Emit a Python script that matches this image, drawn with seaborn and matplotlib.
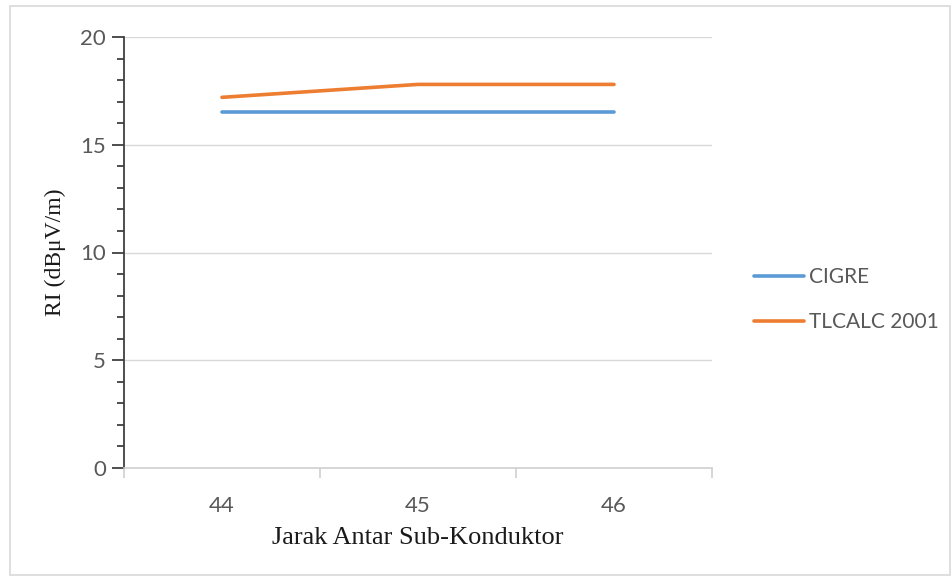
import matplotlib.pyplot as plt
import pandas as pd
import seaborn as sns
from matplotlib.patches import Rectangle
from matplotlib.ticker import MultipleLocator, FixedLocator

# data
jarak = [44, 45, 46]
cigre = [16.5, 16.5, 16.5]
tlcalc = [17.2, 17.8, 17.8]
series_names = ["CIGRE", "TLCALC 2001"]
colors = ["#5b9bd5", "#ed7d31"]

df = pd.DataFrame({
    "jarak": jarak * 2,
    "ri": cigre + tlcalc,
    "series": [series_names[0]] * 3 + [series_names[1]] * 3,
})

sns.set_theme(style="white")
plt.rcParams["font.family"] = ["Lato", "DejaVu Sans"]

fig = plt.figure(figsize=(9.53, 5.81), dpi=100)
ax = fig.add_axes([124 / 953, 1 - 468 / 581, (712 - 124) / 953, (468 - 37) / 581])

sns.lineplot(data=df, x="jarak", y="ri", hue="series", palette=colors,
             linewidth=2.6, ax=ax, legend=True)

# outer chart frame
fig.patches.append(Rectangle((10 / 953, 6 / 581), 940 / 953, 569 / 581,
                             transform=fig.transFigure, fill=False,
                             edgecolor="#d9d9d9", linewidth=1.2))

ax.set_xlim(43.5, 46.5)
ax.set_ylim(0, 20)
ax.xaxis.set_major_locator(FixedLocator(jarak))
ax.xaxis.set_minor_locator(FixedLocator([43.5, 44.5, 45.5, 46.5]))
ax.yaxis.set_major_locator(MultipleLocator(5))
ax.yaxis.set_minor_locator(MultipleLocator(1))

ax.grid(axis="y", which="major", color="#d9d9d9", linewidth=1)
ax.set_axisbelow(True)

for s in ["top", "right"]:
    ax.spines[s].set_visible(False)
ax.spines["left"].set_color("#404040")
ax.spines["left"].set_linewidth(1.3)
ax.spines["bottom"].set_color("#d0d0d0")
ax.spines["bottom"].set_linewidth(1.2)

ax.tick_params(axis="y", which="major", left=True, length=9, width=1.3,
               color="#404040", labelsize=16, labelcolor="#595959", pad=4)
ax.tick_params(axis="y", which="minor", left=True, length=5, width=1.3,
               color="#404040")
ax.tick_params(axis="x", which="major", bottom=False, labelsize=16,
               labelcolor="#595959", pad=14)
ax.tick_params(axis="x", which="minor", bottom=True, length=7, width=1.2,
               color="#d0d0d0")

ax.set_xlabel("Jarak Antar Sub-Konduktor", family="Liberation Serif",
              fontsize=19, color="#1a1a1a", labelpad=8)
ax.set_ylabel("RI (dBμV/m)", family="Liberation Serif", fontsize=17,
              color="#1a1a1a", labelpad=10)

handles, labels = ax.get_legend_handles_labels()
ax.legend(handles, labels, loc="center left", bbox_to_anchor=(1.04, 0.39),
          frameon=False, fontsize=15, handlelength=2.4, handletextpad=0.25,
          labelspacing=1.2, labelcolor="#595959")

fig.savefig("out.png", dpi=100)
